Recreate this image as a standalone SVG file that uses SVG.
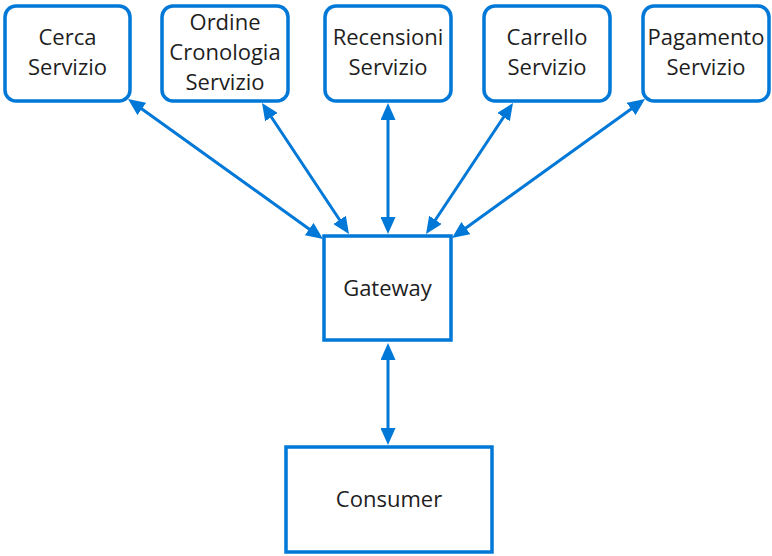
<svg xmlns="http://www.w3.org/2000/svg" width="772" height="556" viewBox="0 0 772 556">
  <style>
    .box { fill: #ffffff; stroke: #0078D7; stroke-width: 3.5; }
    .lbl { font-family: "Open Sans", "Noto Sans", "Liberation Sans", sans-serif; font-size: 22px; fill: #1e1e1e; text-anchor: middle; }
    .conn { stroke: #0078D7; stroke-width: 3; fill: none; marker-start: url(#arrow); marker-end: url(#arrow); }
  </style>
  <defs>
    <marker id="arrow" markerUnits="userSpaceOnUse" markerWidth="17" markerHeight="15" refX="8" refY="7.5" orient="auto-start-reverse" viewBox="0 0 17 15">
      <path d="M0,0 L17,7.5 L0,15 z" fill="#0078D7"/>
    </marker>
  </defs>
  <rect width="772" height="556" fill="#ffffff"/>

  <g id="connectors">
    <line class="conn" x1="135.3" y1="104.3" x2="315.7" y2="233.7"/>
    <line class="conn" x1="267" y1="110.5" x2="344" y2="226.5"/>
    <line class="conn" x1="388" y1="112" x2="388" y2="225"/>
    <line class="conn" x1="508" y1="110.5" x2="431" y2="226.5"/>
    <line class="conn" x1="637.7" y1="104.3" x2="459.3" y2="232.7"/>
    <line class="conn" x1="388" y1="352" x2="388" y2="436"/>
  </g>

  <g id="cerca">
    <rect class="box" x="5" y="6" width="125" height="95" rx="11"/>
    <text class="lbl" x="67.5" y="45">Cerca</text>
    <text class="lbl" x="67.5" y="75">Servizio</text>
  </g>
  <g id="ordine">
    <rect class="box" x="162" y="6" width="126" height="95" rx="11"/>
    <text class="lbl" x="225" y="30">Ordine</text>
    <text class="lbl" x="225" y="60">Cronologia</text>
    <text class="lbl" x="225" y="90">Servizio</text>
  </g>
  <g id="recensioni">
    <rect class="box" x="325" y="6" width="126" height="95" rx="11"/>
    <text class="lbl" x="388" y="45">Recensioni</text>
    <text class="lbl" x="388" y="75">Servizio</text>
  </g>
  <g id="carrello">
    <rect class="box" x="484" y="6" width="126" height="95" rx="11"/>
    <text class="lbl" x="547" y="45">Carrello</text>
    <text class="lbl" x="547" y="75">Servizio</text>
  </g>
  <g id="pagamento">
    <rect class="box" x="643" y="6" width="126" height="95" rx="11"/>
    <text class="lbl" x="706" y="45">Pagamento</text>
    <text class="lbl" x="706" y="75">Servizio</text>
  </g>
  <g id="gateway">
    <rect class="box" x="324" y="236" width="127" height="104"/>
    <text class="lbl" x="387.5" y="296">Gateway</text>
  </g>
  <g id="consumer">
    <rect class="box" x="286" y="447" width="206" height="105"/>
    <text class="lbl" x="389" y="507">Consumer</text>
  </g>
</svg>
